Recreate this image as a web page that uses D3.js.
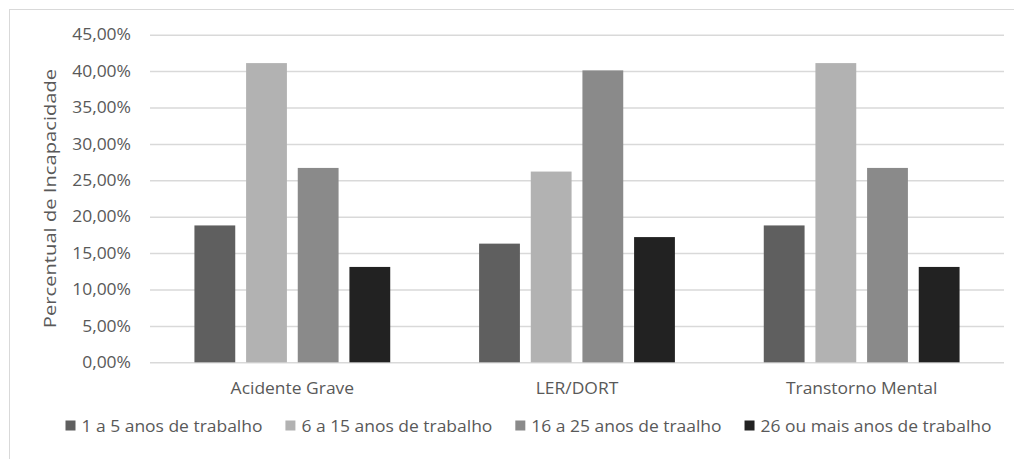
<!DOCTYPE html>
<html>
<head>
<meta charset="utf-8">
<script src="https://cdn.jsdelivr.net/npm/d3@7"></script>
<style>
  html, body { margin: 0; padding: 0; background: #ffffff; }
  svg { display: block; }
  text { font-family: "Open Sans", Lato, sans-serif; fill: #595959; }
</style>
</head>
<body>
<svg id="chart" width="1014" height="459"></svg>
<script>
// ---- data ----
const categories = ["Acidente Grave", "LER/DORT", "Transtorno Mental"];
const seriesNames = ["1 a 5 anos de trabalho", "6 a 15 anos de trabalho", "16 a 25 anos de traalho", "26 ou mais anos de trabalho"];
const series1 = [18.8, 16.3, 18.8];   // 1 a 5 anos
const series2 = [41.1, 26.2, 41.1];   // 6 a 15 anos
const series3 = [26.7, 40.1, 26.7];   // 16 a 25 anos
const series4 = [13.1, 17.2, 13.1];   // 26 ou mais anos
const yTicks = [0, 5, 10, 15, 20, 25, 30, 35, 40, 45];
const yTitle = "Percentual de Incapacidade";

// ---- styles ----
const colors = ["#5f5f5f", "#b2b2b2", "#8a8a8a", "#222222"];
const gridColor = "#d9d9d9";
const fontFamily = "'Open Sans', Lato, sans-serif";
const fontSize = 16;
const stretch = 1.09;
const titleStretch = 1.26;

const seriesValues = [series1, series2, series3, series4];
const table = categories.map((c, i) => ({
  category: c,
  values: seriesNames.map((s, j) => ({ key: s, idx: j, value: seriesValues[j][i] }))
}));

const svg = d3.select("#chart");
const plot = { left: 150, right: 1004, top: 34.7, bottom: 362.3 };

// outer frame (only top/left visible)
svg.append("rect")
  .attr("x", 9.5).attr("y", 9.5)
  .attr("width", 1100).attr("height", 600)
  .attr("fill", "none").attr("stroke", gridColor).attr("stroke-width", 1);

const x0 = d3.scaleBand().domain(categories).range([plot.left, plot.right]).paddingInner(0).paddingOuter(0);
const x1 = d3.scaleBand().domain(seriesNames).range([0, x0.bandwidth()]).paddingInner(0.21).paddingOuter(0.86);
const y = d3.scaleLinear().domain([0, 45]).range([plot.bottom, plot.top]);

const loc = d3.formatLocale({ decimal: ",", thousands: ".", grouping: [3], currency: ["", ""] });
const f2 = loc.format(".2f");

function styleText(sel, k) {
  const factor = k || stretch;
  sel.attr("font-size", fontSize).attr("font-family", fontFamily).attr("fill", "#595959");
  sel.each(function () {
    const len = this.getComputedTextLength();
    d3.select(this).attr("textLength", len * factor).attr("lengthAdjust", "spacingAndGlyphs");
  });
}

// y axis with gridlines
const yAxis = d3.axisLeft(y)
  .tickValues(yTicks)
  .tickFormat(d => f2(d) + "%")
  .tickSizeInner(-(plot.right - plot.left))
  .tickSizeOuter(0)
  .tickPadding(19);
const gy = svg.append("g").attr("transform", `translate(${plot.left},0)`).call(yAxis);
gy.select(".domain").remove();
gy.selectAll(".tick line").attr("stroke", gridColor).attr("stroke-width", 1.5);
gy.selectAll(".tick text").call(styleText);

// bars
const groups = svg.append("g").selectAll("g")
  .data(table).join("g")
  .attr("transform", d => `translate(${x0(d.category)},0)`);
groups.selectAll("rect")
  .data(d => d.values).join("rect")
  .attr("x", d => x1(d.key))
  .attr("width", x1.bandwidth())
  .attr("y", d => y(d.value))
  .attr("height", d => y(0) - y(d.value))
  .attr("fill", d => colors[d.idx]);

// x axis labels
const xAxis = d3.axisBottom(x0).tickSize(0).tickPadding(20.5);
const gx = svg.append("g").attr("transform", `translate(0,${plot.bottom})`).call(xAxis);
gx.select(".domain").remove();
gx.selectAll(".tick text").call(styleText);

// y title
svg.append("text")
  .attr("transform", "rotate(-90)")
  .attr("x", -(plot.top + plot.bottom) / 2)
  .attr("y", 56)
  .attr("text-anchor", "middle")
  .text(yTitle)
  .call(styleText, titleStretch);

// legend
const legend = svg.append("g");
const marker = 10, markerGap = 6, itemGap = 23;
const items = legend.selectAll("g").data(seriesNames).join("g");
items.append("rect")
  .attr("width", marker).attr("height", marker)
  .attr("y", 420.5)
  .attr("fill", (d, i) => colors[i]);
items.append("text")
  .attr("x", marker + markerGap)
  .attr("y", 431.5)
  .text(d => d)
  .call(styleText);
const widths = [];
items.each(function () {
  const t = d3.select(this).select("text").node();
  widths.push(marker + markerGap + (+t.getAttribute("textLength")));
});
const total = d3.sum(widths) + itemGap * (widths.length - 1);
let cx = 528.5 - total / 2;
items.attr("transform", (d, i) => {
  const tx = cx;
  cx += widths[i] + itemGap;
  return `translate(${tx},0)`;
});
</script>
</body>
</html>
